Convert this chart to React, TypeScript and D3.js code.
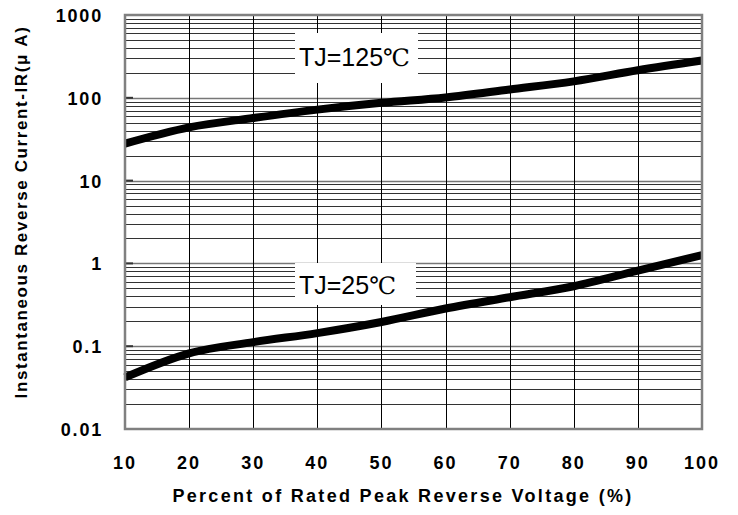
import * as d3 from 'd3';
import { useEffect, useRef } from 'react';

const xTicks = [10, 20, 30, 40, 50, 60, 70, 80, 90, 100];
const yTicks = [0.01, 0.1, 1, 10, 100, 1000];
const yTickLabels = ['0.01', '0.1', '1', '10', '100', '1000'];

const pct = [10, 20, 30, 40, 50, 60, 70, 80, 90, 100];
const ir125 = [28, 44, 57, 72, 87, 101, 126, 158, 215, 282];
const ir25 = [0.042, 0.082, 0.112, 0.144, 0.196, 0.285, 0.39, 0.53, 0.82, 1.26];

export default function App() {
  const svgRef = useRef<SVGSVGElement>(null);
  const w = 738;
  const h = 515;

  useEffect(() => {
    if (svgRef.current == null) {
      return;
    }
    const svg = d3.select(svgRef.current).select('#change');
    svg.selectAll('*').remove();

    const left = 125;
    const right = 702;
    const top = 15;
    const bottom = 429;

    const xScale = d3.scaleLinear().domain([10, 100]).range([left, right]);
    const yScale = d3.scaleLog().domain([0.01, 1000]).range([bottom, top]);

    // minor horizontal grid
    const minor: number[] = [];
    for (let d = 0.01; d < 1000; d *= 10) {
      for (let k = 2; k <= 9; k++) minor.push(d * k);
    }
    svg
      .selectAll('.hminor')
      .data(minor)
      .enter()
      .append('line')
      .attr('x1', left)
      .attr('x2', right)
      .attr('y1', (d) => Math.round(yScale(d)) + 0.5)
      .attr('y2', (d) => Math.round(yScale(d)) + 0.5)
      .attr('stroke', '#333')
      .attr('stroke-width', 1);

    svg
      .selectAll('.hmajor')
      .data(yTicks.slice(1, -1))
      .enter()
      .append('line')
      .attr('x1', left)
      .attr('x2', right)
      .attr('y1', (d) => Math.round(yScale(d)) + 0.5)
      .attr('y2', (d) => Math.round(yScale(d)) + 0.5)
      .attr('stroke', '#777')
      .attr('stroke-width', 1.5);

    // vertical grid
    svg
      .selectAll('.vgrid')
      .data(xTicks.slice(1, -1))
      .enter()
      .append('line')
      .attr('x1', (d) => Math.round(xScale(d)) + 0.5)
      .attr('x2', (d) => Math.round(xScale(d)) + 0.5)
      .attr('y1', top)
      .attr('y2', bottom)
      .attr('stroke', '#000')
      .attr('stroke-width', 1);

    // short decade ticks on left
    svg
      .selectAll('.ltick')
      .data(yTicks)
      .enter()
      .append('line')
      .attr('x1', left)
      .attr('x2', left + 8)
      .attr('y1', (d) => yScale(d))
      .attr('y2', (d) => yScale(d))
      .attr('stroke', '#333')
      .attr('stroke-width', 2);

    // label boxes
    const boxes = [
      { x0: 295, x1: 418, y0: 33, y1: 83 },
      { x0: 295, x1: 416, y0: 263, y1: 305 },
    ];
    boxes.forEach((b) => {
      svg
        .append('rect')
        .attr('x', b.x0)
        .attr('y', b.y0)
        .attr('width', b.x1 - b.x0)
        .attr('height', b.y1 - b.y0)
        .attr('fill', '#fff');
    });
    const addLabel = (t: string, y: number) => {
      const tx = svg
        .append('text')
        .attr('x', 299)
        .attr('y', y)
        .style('font', '25px Arial, "Liberation Sans", sans-serif');
      tx.append('tspan').text(t);
      tx.append('tspan')
        .style('font-family', '"DejaVu Serif", "Liberation Serif", serif')
        .style('font-size', '24px')
        .text('℃');
    };
    addLabel('TJ=125', 66);
    addLabel('TJ=25', 294);

    const line = d3
      .line<number>()
      .x((_, i) => xScale(pct[i]))
      .curve(d3.curveMonotoneX);

    svg
      .append('path')
      .attr('d', line.y((d) => yScale(d))(ir125))
      .attr('fill', 'none')
      .attr('stroke', '#000')
      .attr('stroke-width', 8);
    svg
      .append('path')
      .attr('d', line.y((d) => yScale(d))(ir25))
      .attr('fill', 'none')
      .attr('stroke', '#000')
      .attr('stroke-width', 8);

    // border
    svg
      .append('rect')
      .attr('x', left)
      .attr('y', top)
      .attr('width', right - left)
      .attr('height', bottom - top)
      .attr('fill', 'none')
      .attr('stroke', '#808080')
      .attr('stroke-width', 2.5);

    // y tick labels
    svg
      .selectAll('.ylab')
      .data(yTicks)
      .enter()
      .append('text')
      .attr('x', 103)
      .attr('y', (d) => yScale(d) + 7)
      .attr('text-anchor', 'end')
      .style('font', 'bold 18px Arial, "Liberation Sans", sans-serif')
      .style('letter-spacing', '1.8px')
      .text((_, i) => yTickLabels[i]);

    // x tick labels
    svg
      .selectAll('.xlab')
      .data(xTicks)
      .enter()
      .append('text')
      .attr('x', (d) => xScale(d))
      .attr('y', 469)
      .attr('text-anchor', 'middle')
      .style('font', 'bold 18px Arial, "Liberation Sans", sans-serif')
      .style('letter-spacing', '2px')
      .text((d) => d);

    svg
      .append('text')
      .attr('x', 403)
      .attr('y', 502)
      .attr('text-anchor', 'middle')
      .style('font', 'bold 18px Arial, "Liberation Sans", sans-serif')
      .style('letter-spacing', '2.3px')
      .text('Percent of Rated Peak Reverse Voltage (%)');

    svg
      .append('text')
      .attr('transform', 'translate(27, 212) rotate(-90)')
      .attr('text-anchor', 'middle')
      .style('font', 'bold 17px Arial, "Liberation Sans", sans-serif')
      .style('letter-spacing', '1.6px')
      .text('Instantaneous Reverse Current-IR(μ A)');
  }, []);

  return (
    <svg ref={svgRef} width={w} height={h} style={{ position: 'absolute', left: 0, top: 0, background: '#fff' }}>
      <g id='change'></g>
    </svg>
  );
}
